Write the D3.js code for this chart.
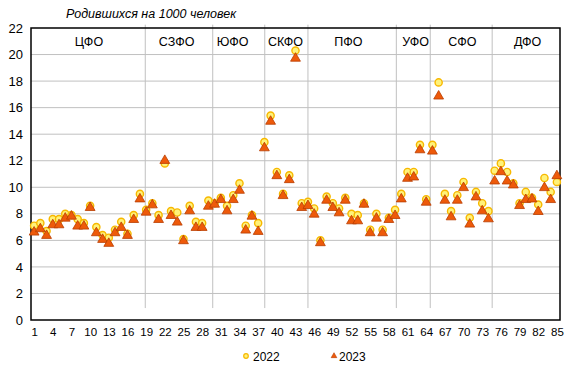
<!DOCTYPE html>
<html>
<head>
<meta charset="utf-8">
<script src="https://cdn.jsdelivr.net/npm/d3@7"></script>
<style>
  body { margin: 0; background: #fff; }
  svg { font-family: "Liberation Sans", Arial, sans-serif; }
  .axis text { fill: #000; }
</style>
</head>
<body>
<svg id="chart" width="576" height="376"></svg>
<script>
// values
var v2022 = [7.1, 7.3, 6.7, 7.6, 7.6, 8.0, 7.9, 7.6, 7.3, 8.6,
  7.0, 6.4, 6.2, 6.8, 7.4, 6.5, 7.9, 9.5, 8.3, 8.8,
  7.9, 11.8, 8.2, 8.1, 6.1, 8.6, 7.4, 7.3, 9.0, 8.8,
  9.2, 8.6, 9.4, 10.3, 7.1, 7.9, 7.3, 13.4, 15.4, 11.15,
  9.5, 10.9, 20.3, 8.8, 8.9, 8.4, 6.0, 9.3, 8.8, 8.4,
  9.2, 8.0, 7.9, 8.8, 6.8, 8.0, 6.8, 7.7, 8.3, 9.5,
  11.15, 11.15, 13.2, 9.1, 13.2, 17.9, 9.5, 8.2, 9.4, 10.4,
  7.7, 9.65, 8.8, 8.2, 11.25, 11.8, 11.15, 10.3, 8.8, 9.65,
  9.2, 8.7, 10.7, 9.65, 10.4];
var v2023 = [6.65, 6.9, 6.4, 7.2, 7.2, 7.7, 7.85, 7.1, 7.1, 8.5,
  6.6, 6.1, 5.8, 6.6, 7.0, 6.4, 7.6, 9.15, 8.15, 8.7,
  7.6, 12.05, 7.9, 7.4, 6.0, 8.25, 7.0, 7.0, 8.6, 8.75,
  9.1, 8.25, 9.1, 9.8, 6.8, 7.85, 6.7, 13.0, 15.0, 10.9,
  9.4, 10.6, 19.75, 8.5, 8.65, 8.0, 5.85, 9.05, 8.5, 8.1,
  9.05, 7.5, 7.5, 8.75, 6.6, 7.7, 6.6, 7.6, 7.9, 9.15,
  10.7, 10.8, 12.85, 8.9, 12.75, 16.9, 9.05, 7.8, 9.05, 10.0,
  7.25, 9.3, 8.25, 7.65, 10.5, 11.2, 10.5, 10.2, 8.65, 9.1,
  9.15, 8.2, 10.0, 9.1, 10.9];
var districts = ["ЦФО", "СЗФО", "ЮФО", "СКФО", "ПФО", "УФО", "СФО", "ДФО"];
var districtLabelAt = [9.8, 23.9, 32.9, 41.4, 51.5, 62.3, 69.8, 80.3];
var separators = [18.86, 29.7, 38.06, 45.0, 59.2, 64.65, 74.6];
var xTicks = d3.range(1, 86, 3);
var yTicks = d3.range(0, 23, 2);
var title = "Родившихся на 1000 человек";

var margin = {top: 28, right: 16, bottom: 56, left: 31};
var width = 576, height = 376;

var svg = d3.select('#chart');

var x = d3.scaleLinear()
  .domain([0.5, 85.5])
  .range([margin.left, width - margin.right]);
var y = d3.scaleLinear()
  .domain([0, 22])
  .range([height - margin.bottom, margin.top]);

// horizontal grid
svg.append("g")
  .selectAll("line")
  .data(yTicks.filter(function(d) { return d > 0 && d < 22; }))
  .enter().append("line")
  .attr("x1", x.range()[0]).attr("x2", x.range()[1])
  .attr("y1", function(d) { return y(d); })
  .attr("y2", function(d) { return y(d); })
  .attr("stroke", "#c0c0c0")
  .attr("stroke-width", 1);

// district separators
svg.append("g")
  .selectAll("line")
  .data(separators)
  .enter().append("line")
  .attr("x1", function(d) { return x(d); })
  .attr("x2", function(d) { return x(d); })
  .attr("y1", y(0.9))
  .attr("y2", y(22.25))
  .attr("stroke", "#c0c0c0")
  .attr("stroke-width", 1);

// plot border
svg.append("rect")
  .attr("x", x.range()[0])
  .attr("y", y(22))
  .attr("width", x.range()[1] - x.range()[0])
  .attr("height", y(0) - y(22))
  .attr("fill", "none")
  .attr("stroke", "#000")
  .attr("stroke-width", 1.5);

// district names
svg.append("g")
  .selectAll("text")
  .data(districts)
  .enter().append("text")
  .attr("x", function(d, i) { return x(districtLabelAt[i]); })
  .attr("y", y(22) + 18)
  .attr("text-anchor", "middle")
  .attr("font-size", "12.5px")
  .text(function(d) { return d; });

// axes
var yAxis = svg.append("g")
  .attr("class", "axis")
  .attr("transform", "translate(" + margin.left + ",0)")
  .call(d3.axisLeft(y).tickValues(yTicks).tickSize(0).tickPadding(8));
yAxis.select(".domain").remove();
yAxis.selectAll("text").attr("font-size", "13px").attr("font-family", "Liberation Sans, Arial, sans-serif");

var xAxis = svg.append("g")
  .attr("class", "axis")
  .attr("transform", "translate(0," + y(0) + ")")
  .call(d3.axisBottom(x).tickValues(xTicks).tickSize(0).tickPadding(8));
xAxis.select(".domain").remove();
xAxis.selectAll("text").attr("font-size", "11.5px").attr("font-family", "Liberation Sans, Arial, sans-serif");

// title
svg.append("text")
  .attr("x", 66)
  .attr("y", 18)
  .attr("font-size", "12.5px")
  .attr("font-style", "italic")
  .text(title);

// 2022 circles
svg.append("g")
  .selectAll("circle")
  .data(v2022)
  .enter().append("circle")
  .attr("cx", function(d, i) { return x(i + 1); })
  .attr("cy", function(d) { return y(d); })
  .attr("r", 3.6)
  .attr("fill", "#fff27a")
  .attr("stroke", "#f7b800")
  .attr("stroke-width", 1.4);

// 2023 triangles
var tri = d3.symbol().type(d3.symbolTriangle).size(42);
svg.append("g")
  .selectAll("path")
  .data(v2023)
  .enter().append("path")
  .attr("d", tri)
  .attr("transform", function(d, i) { return "translate(" + x(i + 1) + "," + (y(d) + 0.5) + ")"; })
  .attr("fill", "#ee5a0a")
  .attr("stroke", "#b83c00")
  .attr("stroke-width", 0.8);

// legend
var legend = svg.append("g").attr("font-size", "12px");
legend.append("circle")
  .attr("cx", 246).attr("cy", 356).attr("r", 2.3)
  .attr("fill", "#fff27a").attr("stroke", "#f7b800").attr("stroke-width", 1.2);
legend.append("text").attr("x", 253).attr("y", 360.5).text("2022");
legend.append("path")
  .attr("d", d3.symbol().type(d3.symbolTriangle).size(14))
  .attr("transform", "translate(334,356)")
  .attr("fill", "#ee5a0a").attr("stroke", "#b83c00").attr("stroke-width", 0.6);
legend.append("text").attr("x", 339).attr("y", 360.5).text("2023");
</script>
</body>
</html>
